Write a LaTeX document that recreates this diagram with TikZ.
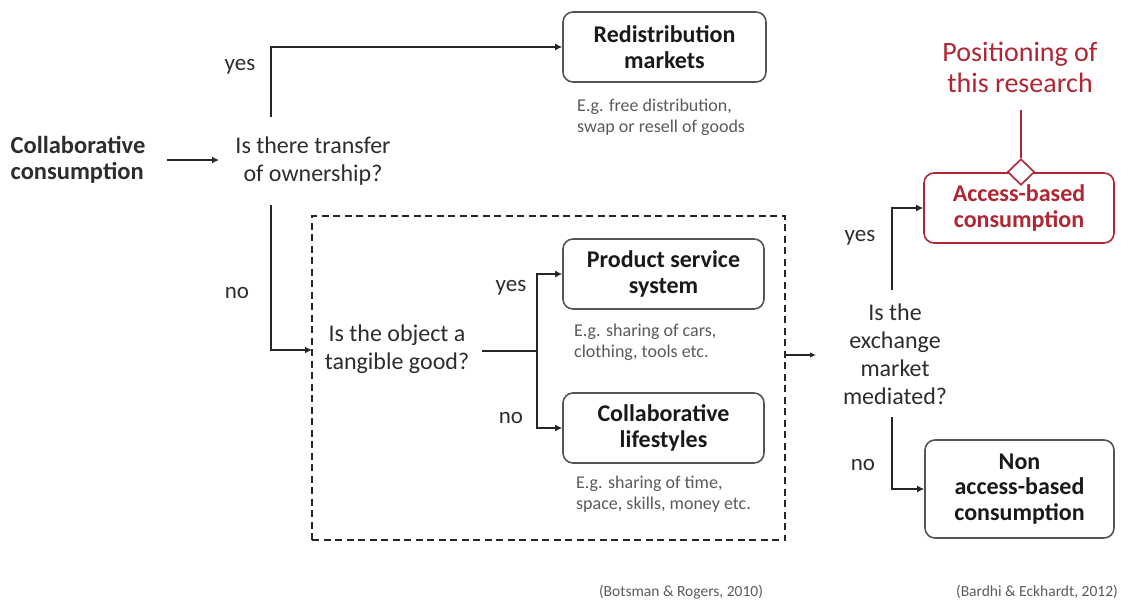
\documentclass[tikz,border=0pt]{standalone}
\usepackage{fontspec}
\setmainfont{Carlito}
\usetikzlibrary{arrows.meta,shapes.geometric}
\definecolor{ink}{RGB}{45,45,45}
\definecolor{note}{RGB}{90,90,90}
\definecolor{boxline}{RGB}{85,85,85}
\definecolor{accent}{RGB}{175,38,52}
\tikzset{
  question/.style={align=center,text=ink,font=\fontsize{24}{27.5}\selectfont,inner sep=1pt},
  stage/.style={draw=boxline,line width=1.6pt,rounded corners=10pt,align=center,
    font=\bfseries\fontsize{24}{25.5}\selectfont,text=black!90},
  example/.style={align=left,text=note,font=\fontsize{18}{21}\selectfont,inner sep=0pt,anchor=west},
  answer/.style={text=ink,font=\fontsize{23}{25}\selectfont,inner sep=0pt},
  flow/.style={line width=1.9pt,draw=black!85,-{Latex[length=7pt,width=7pt]}},
  plain/.style={line width=1.9pt,draw=black!85},
  cite/.style={text=note,font=\fontsize{15.5}{18}\selectfont,inner sep=0pt}
}
\begin{document}
\begin{tikzpicture}[x=1pt,y=-1pt]
\useasboundingbox (0,0) rectangle (1121,602);

% starting concept and first decision
\node[font=\bfseries\fontsize{24.5}{25.5}\selectfont,align=left,text=ink,inner sep=0pt] (cc) at (78,160) {Collaborative\\consumption};
\node[question] (q1) at (313,161) {Is there transfer\\of ownership?};
\coordinate (ccout) at (167,160);
\coordinate (q1in) at (219,160);
\draw[flow] (ccout) -- (q1in);

% ownership transfer
\node[stage,minimum width=203pt,minimum height=70pt] (redis) at (664.5,47) {Redistribution\\markets};
\node[example] (exr) at (577,117) {E.g. free distribution,\\swap or resell of goods};
\coordinate (q1up) at (271,117);
\coordinate (q1dn) at (271,205);
\draw[flow] (q1up) |- (redis.west);
\node[answer] (y1) at (240,67) {yes};

% access without ownership
\node[draw=black!85,line width=1.9pt,dash pattern=on 7pt off 4.5pt,minimum width=473pt,minimum height=324pt,inner sep=0pt] (grp) at (548.5,378) {};
\node[question] (q2) at (397,349) {Is the object a\\tangible good?};
\coordinate (q2in) at (312,350);
\draw[flow] (q1dn) |- (q2in);
\node[answer] (n1) at (237,293) {no};

\node[stage,minimum width=201pt,minimum height=70pt] (pss) at (663.5,274) {Product service\\system};
\node[example] (expss) at (574,342) {E.g. sharing of cars,\\clothing, tools etc.};
\node[stage,minimum width=201pt,minimum height=70pt] (cl) at (663.5,428) {Collaborative\\lifestyles};
\node[example] (excl) at (576,494) {E.g. sharing of time,\\space, skills, money etc.};

\coordinate (q2out) at (482,351);
\coordinate (split) at (537,351);
\draw[plain] (q2out) -- (split);
\draw[flow] (split) |- (pss.west);
\draw[flow] (split) |- (cl.west);
\node[answer] (y2) at (511,288) {yes};
\node[answer] (n2) at (511,418) {no};

% market mediation
\node[question,font=\fontsize{24}{28}\selectfont] (q3) at (895,354) {Is the\\exchange\\market\\mediated?};
\coordinate (grpout) at (785,355);
\coordinate (q3in) at (816,355);
\draw[line width=1.2pt,draw=black!85,-{Latex[length=6pt,width=5.5pt]}] (grpout) -- (q3in);

\node[stage,draw=accent,text=accent,minimum width=190pt,minimum height=70pt] (acc) at (1019,208) {Access-based\\consumption};
\node[stage,minimum width=189pt,minimum height=98pt] (non) at (1019.5,489) {Non\\access-based\\consumption};
\coordinate (q3up) at (892,290);
\coordinate (q3dn) at (892,417);
\draw[flow] (q3up) |- (acc.west);
\draw[flow] (q3dn) |- (non.west);
\node[answer] (y3) at (860,238) {yes};
\node[answer] (n3) at (863,465) {no};

% research positioning
\node[align=center,text=accent,font=\fontsize{28}{31}\selectfont,inner sep=0pt] (pos) at (1020,67) {Positioning of\\this research};
\node[diamond,draw=accent,fill=white,line width=1.6pt,minimum width=27pt,minimum height=26pt,inner sep=0pt] (dia) at (1021,172) {};
\coordinate (postail) at (1021,110);
\draw[accent,line width=1.6pt] (dia.north) -- (postail);

% sources
\node[cite] (src1) at (681,592) {(Botsman \& Rogers, 2010)};
\node[cite,anchor=east] (src2) at (1118,592) {(Bardhi \& Eckhardt, 2012)};
\end{tikzpicture}
\end{document}
